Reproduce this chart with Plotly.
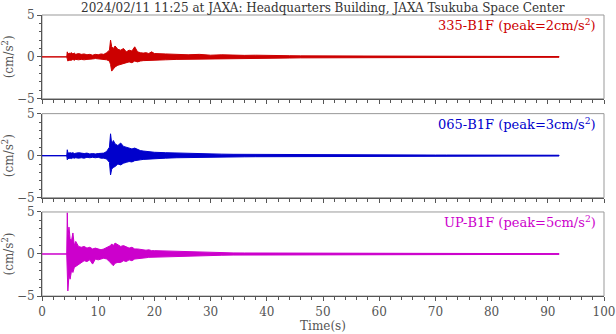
import plotly.graph_objects as go
from plotly.subplots import make_subplots

# Time knots (s) at which the envelope of each record was read
TIME = [0, 4.4, 4.5, 4.6, 4.8, 5.0, 5.25, 5.5, 5.75, 6.0,
        6.5, 7.0, 7.5, 8.0, 8.5, 9.0, 9.5, 10.0, 10.5, 11.0, 11.5, 12.0,
        12.2, 12.4, 12.7, 13.0,
        13.5, 14.0, 14.5, 15.0, 15.5, 16.0, 16.5, 17.0, 17.5, 18.0, 18.5, 19.0, 19.5, 20.0,
        22, 24, 26, 28, 30, 32, 34, 36, 38, 40, 42, 44, 46, 48, 50, 52, 54, 56, 58,
        60, 62, 64, 66, 68, 70, 72, 74, 76, 78, 80, 82, 84, 86, 88, 90, 92]

# 335-B1F envelope (cm/s^2)
NS_UP = [0, 0, 0.6, 0.3, 0.45, 0.4, 0.5, 0.35, 0.45, 0.3,
         0.4, 0.3, 0.35, 0.25, 0.3, 0.2, 0.3, 0.25, 0.35, 0.3, 0.5, 0.8,
         2.0, 1.2, 1.0, 1.3,
         0.9, 0.8, 1.0, 0.6, 0.8, 0.7, 1.2, 0.6, 0.5, 0.45, 0.5, 0.4, 0.6, 0.4,
         0.35, 0.3, 0.25, 0.3, 0.2, 0.25, 0.2, 0.18, 0.2, 0.15, 0.15, 0.14, 0.12, 0.12, 0.1, 0.1, 0.1, 0.1, 0.08,
         0.08, 0.08, 0.07, 0.07, 0.07, 0.06, 0.06, 0.06, 0.05, 0.05, 0.05, 0.05, 0.05, 0.04, 0.04, 0.04, 0.04]
NS_LO = [0, 0, -0.5, -0.4, -0.35, -0.4, -0.3, -0.4, -0.3, -0.35,
         -0.3, -0.35, -0.3, -0.25, -0.25, -0.2, -0.25, -0.3, -0.3, -0.35, -0.5, -0.9,
         -1.7, -1.5, -1.2, -1.0,
         -0.9, -0.8, -0.7, -0.6, -0.7, -0.5, -0.6, -0.5, -0.45, -0.4, -0.45, -0.35, -0.4, -0.35,
         -0.3, -0.3, -0.25, -0.25, -0.2, -0.2, -0.18, -0.18, -0.15, -0.15, -0.14, -0.12, -0.12, -0.1, -0.1, -0.1, -0.09, -0.09, -0.08,
         -0.08, -0.07, -0.07, -0.07, -0.06, -0.06, -0.06, -0.05, -0.05, -0.05, -0.05, -0.05, -0.04, -0.04, -0.04, -0.04]

# 065-B1F envelope (cm/s^2)
EW_UP = [0, 0, 0.7, 0.35, 0.3, 0.35, 0.3, 0.35, 0.25, 0.3,
         0.35, 0.3, 0.25, 0.3, 0.2, 0.25, 0.2, 0.25, 0.3, 0.3, 0.5, 1.0,
         2.6, 1.4, 1.8, 1.4,
         1.2, 1.5, 1.1, 1.0, 0.9, 0.8, 0.9, 0.7, 0.6, 0.55, 0.5, 0.5, 0.45, 0.4,
         0.35, 0.3, 0.25, 0.2, 0.2, 0.18, 0.16, 0.15, 0.15, 0.14, 0.13, 0.12, 0.12, 0.11, 0.12, 0.1, 0.1, 0.1, 0.09,
         0.09, 0.08, 0.08, 0.08, 0.07, 0.07, 0.07, 0.06, 0.06, 0.06, 0.06, 0.05, 0.05, 0.05, 0.05, 0.05, 0.05]
EW_LO = [0, 0, -0.5, -0.35, -0.3, -0.3, -0.35, -0.25, -0.3, -0.25,
         -0.3, -0.25, -0.3, -0.2, -0.25, -0.2, -0.25, -0.2, -0.3, -0.3, -0.4, -0.8,
         -2.3, -1.6, -1.4, -1.3,
         -1.0, -1.1, -0.9, -0.8, -0.7, -0.75, -0.6, -0.55, -0.5, -0.45, -0.4, -0.4, -0.35, -0.35,
         -0.3, -0.25, -0.22, -0.2, -0.18, -0.16, -0.15, -0.14, -0.13, -0.12, -0.12, -0.11, -0.1, -0.1, -0.1, -0.09, -0.09, -0.08, -0.08,
         -0.08, -0.07, -0.07, -0.07, -0.06, -0.06, -0.06, -0.05, -0.05, -0.05, -0.05, -0.05, -0.05, -0.04, -0.04, -0.04, -0.04]

# UP-B1F envelope (cm/s^2)
UD_UP = [0, 0, 4.9, 2.0, 3.2, 1.8, 1.6, 2.5, 1.0, 1.5,
         0.9, 0.8, 0.9, 0.7, 0.8, 0.6, 0.7, 0.6, 0.5, 0.6, 0.8, 0.9,
         1.0, 1.2, 1.0, 1.3,
         1.1, 0.9, 1.0, 0.8, 0.7, 0.8, 0.6, 0.6, 0.55, 0.5, 0.45, 0.5, 0.4, 0.4,
         0.35, 0.3, 0.25, 0.2, 0.15, 0.15, 0.13, 0.12, 0.12, 0.1, 0.1, 0.09, 0.09, 0.08, 0.08, 0.07, 0.07, 0.07, 0.06,
         0.06, 0.06, 0.05, 0.05, 0.05, 0.05, 0.05, 0.04, 0.04, 0.04, 0.04, 0.04, 0.04, 0.04, 0.04, 0.04, 0.04]
UD_LO = [0, 0, -4.4, -2.5, -3.0, -2.0, -2.2, -1.6, -1.5, -1.2,
         -1.0, -0.8, -0.9, -0.7, -1.2, -0.6, -0.7, -0.6, -0.5, -0.6, -0.9, -1.0,
         -1.2, -1.4, -1.1, -1.0,
         -1.0, -0.8, -0.9, -0.7, -0.8, -0.6, -0.6, -0.5, -0.5, -0.45, -0.4, -0.4, -0.35, -0.35,
         -0.3, -0.25, -0.2, -0.18, -0.15, -0.13, -0.12, -0.11, -0.1, -0.1, -0.09, -0.09, -0.08, -0.08, -0.07, -0.07, -0.07, -0.06, -0.06,
         -0.06, -0.05, -0.05, -0.05, -0.05, -0.05, -0.04, -0.04, -0.04, -0.04, -0.04, -0.04, -0.04, -0.04, -0.04, -0.04]

CHANNELS = ["335-B1F", "065-B1F", "UP-B1F"]
PEAKS = [2, 3, 5]
COLORS = ["#cc0000", "#0000cc", "#cc00cc"]
ENVELOPES = [(NS_UP, NS_LO), (EW_UP, EW_LO), (UD_UP, UD_LO)]
TITLE = "2024/02/11 11:25 at JAXA: Headquarters Building, JAXA Tsukuba Space Center"

FONT = "DejaVu Serif, serif"
FS = 12
AXC = "#555555"

fig = make_subplots(rows=3, cols=1, vertical_spacing=0.0)
domains = [[0.702, 1.0], [0.350, 0.649], [0.0, 0.299]]

for i, (up, lo) in enumerate(ENVELOPES):
    r = i + 1
    xs = TIME + TIME[::-1]
    ys = up + lo[::-1]
    fig.add_trace(go.Scatter(x=xs, y=ys, mode="lines", fill="toself",
                             fillcolor=COLORS[i],
                             line=dict(color=COLORS[i], width=1),
                             hoverinfo="skip", showlegend=False), row=r, col=1)
    fig.add_trace(go.Scatter(x=TIME, y=[0] * len(TIME), mode="lines",
                             line=dict(color=COLORS[i], width=1),
                             hoverinfo="skip", showlegend=False), row=r, col=1)
    ya = "yaxis" if r == 1 else f"yaxis{r}"
    fig.layout[ya].domain = domains[i]
    fig.update_xaxes(range=[0, 100], dtick=10, tick0=0, ticks="outside", ticklen=4,
                     tickcolor=AXC, showline=True, linecolor=AXC, linewidth=1,
                     showgrid=False, zeroline=False, showticklabels=(r == 3),
                     automargin=False, ticklabelstandoff=1,
                     minor=dict(dtick=2, ticks="outside", ticklen=3, tickcolor=AXC),
                     tickfont=dict(family=FONT, size=FS, color=AXC),
                     row=r, col=1)
    fig.update_yaxes(range=[-5, 5], tickvals=[-5, 0, 5], ticks="outside", ticklen=4,
                     tickcolor=AXC, showline=True, linecolor=AXC, linewidth=1,
                     showgrid=False, zeroline=False, automargin=False,
                     minor=dict(dtick=1, ticks="outside", ticklen=2, tickcolor=AXC),
                     tickfont=dict(family=FONT, size=FS, color=AXC),
                     title=dict(text="(cm/s<sup>2</sup>)", standoff=4,
                                font=dict(family=FONT, size=FS, color=AXC)),
                     row=r, col=1)
    xref = "x" if r == 1 else f"x{r}"
    yref = "y" if r == 1 else f"y{r}"
    fig.add_shape(type="rect", xref=f"{xref} domain", yref=f"{yref} domain",
                  x0=0, x1=1, y0=0, y1=1, line=dict(color="#999999", width=1),
                  layer="below")
    fig.add_annotation(xref=f"{xref} domain", yref=f"{yref} domain", x=0.99, y=0.995,
                       xanchor="right", yanchor="top", showarrow=False,
                       text=f"{CHANNELS[i]} (peak={PEAKS[i]}cm/s<sup>2</sup>)",
                       font=dict(family=FONT, size=13, color=COLORS[i]))

fig.update_xaxes(title=dict(text="Time(s)", standoff=2,
                            font=dict(family=FONT, size=FS, color=AXC)), row=3, col=1)

fig.add_annotation(xref="paper", yref="paper", x=0.5, y=1.0, yshift=-2,
                   xanchor="center", yanchor="bottom", showarrow=False,
                   text=TITLE, font=dict(family=FONT, size=FS, color="#333333"))

fig.update_layout(width=616, height=334, margin=dict(l=42, r=12, t=15, b=38),
                  paper_bgcolor="white", plot_bgcolor="white")

fig.write_html("out.html")
